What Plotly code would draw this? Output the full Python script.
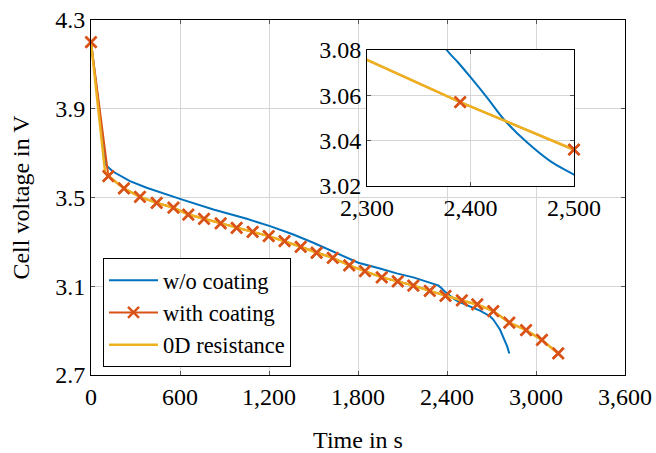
import plotly.graph_objects as go

# ---- data ----
t_wo = [0, 101, 150, 263, 375, 488, 600, 825, 1050, 1207, 1364, 1499, 1611, 1802,
        1948, 2061, 2173, 2308, 2340, 2360, 2377, 2388, 2400, 2416, 2433, 2454, 2477,
        2500, 2578, 2622, 2690, 2712, 2757, 2780, 2805, 2820]
v_wo = [4.200, 3.645, 3.616, 3.574, 3.544, 3.518, 3.494, 3.446, 3.404, 3.371, 3.333,
        3.296, 3.262, 3.206, 3.180, 3.158, 3.140, 3.112, 3.104, 3.093, 3.080, 3.0745,
        3.068, 3.059, 3.049, 3.0395, 3.031, 3.025, 3.005, 2.990, 2.965, 2.950, 2.905,
        2.870, 2.830, 2.797]

t_with = [0, 117, 222, 330, 443, 556, 656, 762, 874, 982, 1090, 1198, 1305, 1414,
          1521, 1630, 1741, 1847, 1960, 2068, 2173, 2284, 2390, 2500, 2604, 2712,
          2820, 2933, 3040, 3150]
v_with = [4.200, 3.596, 3.541, 3.503, 3.476, 3.454, 3.423, 3.404, 3.383, 3.363, 3.345,
          3.326, 3.303, 3.278, 3.251, 3.228, 3.194, 3.168, 3.140, 3.122, 3.103, 3.079,
          3.057, 3.036, 3.018, 2.988, 2.936, 2.902, 2.858, 2.797]

t_0d = [0, 95, 117, 222, 330, 443, 556, 656, 762, 874, 982, 1090, 1198, 1305, 1414,
        1521, 1630, 1741, 1847, 1960, 2068, 2173, 2284, 2390, 2500, 2604, 2712,
        2820, 2933, 3040, 3150]
v_0d = [4.200, 3.615, 3.598, 3.541, 3.503, 3.476, 3.454, 3.423, 3.404, 3.383, 3.363,
        3.345, 3.326, 3.303, 3.278, 3.251, 3.228, 3.194, 3.168, 3.140, 3.122, 3.103,
        3.079, 3.057, 3.036, 3.018, 2.988, 2.936, 2.902, 2.858, 2.797]

x_ticks = [0, 600, 1200, 1800, 2400, 3000, 3600]
y_ticks = [2.7, 3.1, 3.5, 3.9, 4.3]
x_ticks_inset = [2300, 2400, 2500]
y_ticks_inset = [3.02, 3.04, 3.06, 3.08]

names = ["w/o coating", "with coating", "0D resistance"]
BLUE, RED, YEL = "#0072BD", "#D95319", "#EDB120"
FONT = "Liberation Serif"
FS = 24

fig = go.Figure()

for xa, ya, main in [("x", "y", True), ("x2", "y2", False)]:
    fig.add_trace(go.Scatter(x=t_wo, y=v_wo, mode="lines", name=names[0],
                             line=dict(color=BLUE, width=2,
                                       shape="linear" if main else "spline"),
                             xaxis=xa, yaxis=ya, showlegend=main))
    fig.add_trace(go.Scatter(x=t_with, y=v_with, mode="lines+markers", name=names[1],
                             line=dict(color=RED, width=2),
                             marker=dict(symbol="x-thin", size=11, color=RED,
                                         line=dict(color=RED, width=2.5)),
                             xaxis=xa, yaxis=ya, showlegend=main, cliponaxis=False))
    fig.add_trace(go.Scatter(x=t_0d, y=v_0d, mode="lines", name=names[2],
                             line=dict(color=YEL, width=2.5), xaxis=xa, yaxis=ya,
                             showlegend=main))
    fig.add_trace(go.Scatter(x=t_with, y=v_with, mode="markers", name=names[1],
                             marker=dict(symbol="x-thin", size=11, color=RED,
                                         line=dict(color=RED, width=2.5)),
                             xaxis=xa, yaxis=ya, showlegend=False, cliponaxis=False,
                             hoverinfo="skip"))

axis_common = dict(showgrid=True, gridcolor="#d6d6d6", gridwidth=1,
                   showline=True, linecolor="black", linewidth=1, mirror="ticks",
                   ticks="inside", ticklen=4, tickcolor="#555555", zeroline=False,
                   automargin=False, ticklabeloverflow="allow",
                   tickfont=dict(family=FONT, size=FS, color="black"))

fig.update_layout(
    width=656, height=453,
    margin=dict(l=91, r=31, t=20, b=78),
    paper_bgcolor="white", plot_bgcolor="white",
    font=dict(family=FONT, size=FS, color="black"),
    xaxis=dict(domain=[0, 1], range=[0, 3600], tickvals=x_ticks, tickformat=",",
               title=dict(text="Time in s", font=dict(family=FONT, size=FS), standoff=22),
               **axis_common),
    yaxis=dict(domain=[0, 1], range=[2.7, 4.3], tickvals=y_ticks, tickformat=".1f",
               title=dict(text="Cell voltage in V", font=dict(family=FONT, size=FS), standoff=18),
               **axis_common),
    xaxis2=dict(domain=[0.5169, 0.9045], range=[2300, 2500], tickvals=x_ticks_inset,
                tickformat=",", anchor="y2", **axis_common),
    yaxis2=dict(domain=[0.5324, 0.9155], range=[3.02, 3.08], tickvals=y_ticks_inset,
                tickformat=".2f", anchor="x2", **axis_common),
    legend=dict(x=0.0225, y=0.0225, xanchor="left", yanchor="bottom",
                bordercolor="black", borderwidth=1, bgcolor="white", itemwidth=49,
                font=dict(family=FONT, size=22.5), tracegroupgap=0),
    showlegend=True,
)

fig.write_html(
    "out.html",
    config={"displayModeBar": False},
    post_script="document.body.style.margin='0';"
                "document.documentElement.style.overflow='hidden';"
                "document.body.style.overflow='hidden';",
)
